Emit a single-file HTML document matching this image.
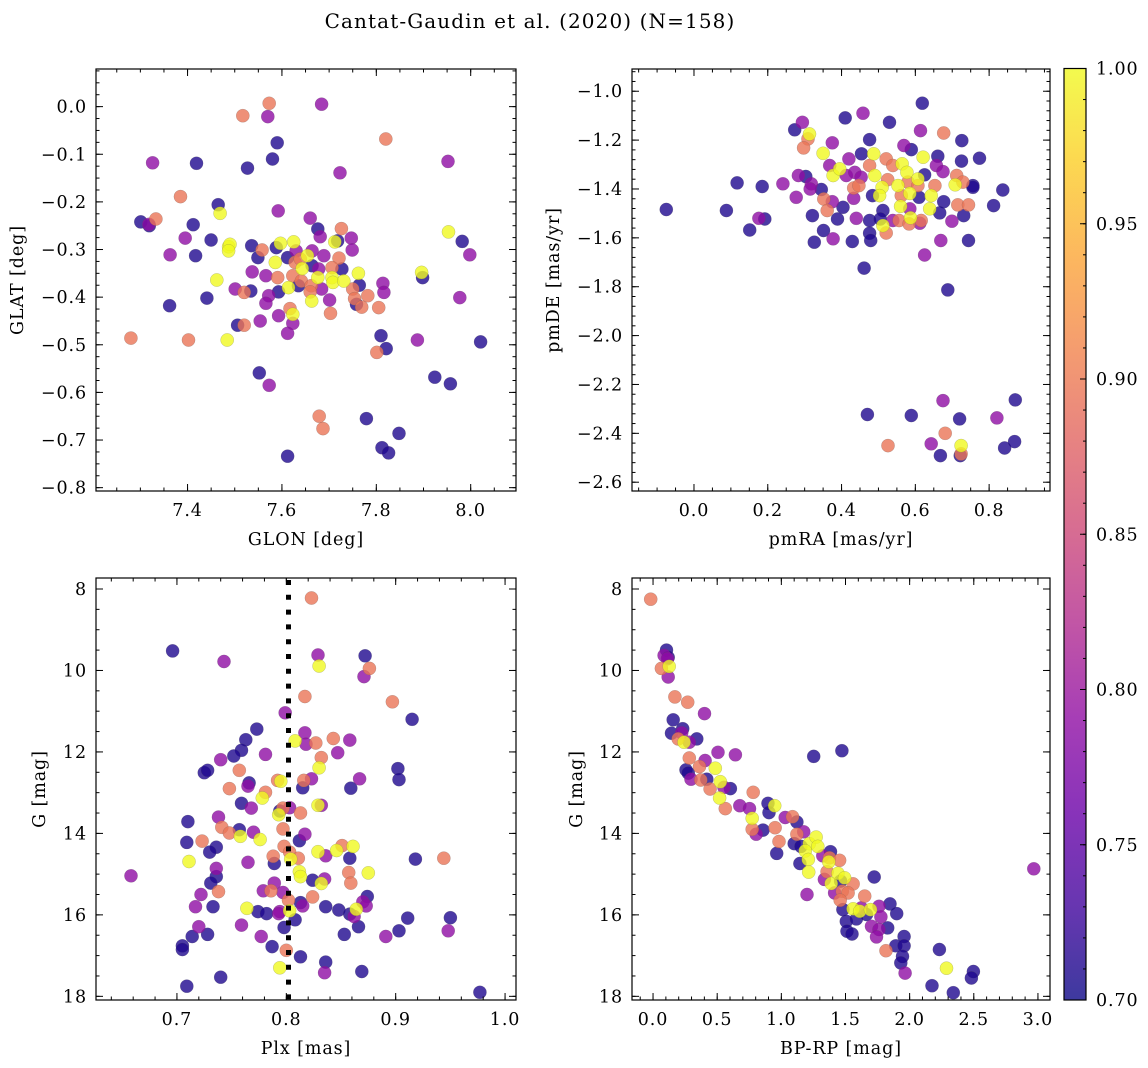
<!DOCTYPE html>
<html><head><meta charset="utf-8"><title>Cantat-Gaudin et al. (2020)</title>
<style>
html,body{margin:0;padding:0;background:#fff;}
svg{display:block;font-family:"DejaVu Serif","Liberation Serif",serif;}
</style></head>
<body>
<svg id="fig" width="1148" height="1068" viewBox="0 0 1148 1068" xmlns="http://www.w3.org/2000/svg">
<defs>
<linearGradient id="plasmaGrad" x1="0" y1="1" x2="0" y2="0">
<stop offset="0" stop-color="#0d0887"/><stop offset="0.1" stop-color="#41049d"/><stop offset="0.2" stop-color="#6a00a8"/><stop offset="0.3" stop-color="#8f0da4"/><stop offset="0.4" stop-color="#b12a90"/><stop offset="0.5" stop-color="#cc4778"/><stop offset="0.6" stop-color="#e16462"/><stop offset="0.7" stop-color="#f2844b"/><stop offset="0.8" stop-color="#fca636"/><stop offset="0.9" stop-color="#fcce25"/><stop offset="1" stop-color="#f0f921"/>
</linearGradient>
</defs>
<text x="530" y="28" text-anchor="middle" font-size="20" letter-spacing="1.1">Cantat-Gaudin et al. (2020) (N=158)</text>
</svg>
<script>
// ---- Panel 1: GLON / GLAT ----
const glon=[7.573,7.517,7.570,7.684,7.590,7.580,7.527,7.419,7.326,7.820,7.952,7.723,7.385,7.465,7.469,7.301,7.319,7.318,7.333,7.412,7.395,7.450,7.363,7.417,7.592,7.660,7.676,7.726,7.681,7.747,7.718,7.712,7.749,7.487,7.490,7.487,7.536,7.558,7.549,7.588,7.597,7.625,7.630,7.612,7.654,7.664,7.586,7.628,7.639,7.643,7.664,7.689,7.721,7.706,7.727,7.537,7.566,7.591,7.623,7.641,7.676,7.678,7.706,7.708,7.762,7.731,7.750,7.764,7.614,7.635,7.662,7.684,7.660,7.663,7.701,7.593,7.572,7.566,7.501,7.520,7.534,7.462,7.441,7.362,7.754,7.758,7.769,7.782,7.805,7.814,7.816,7.896,7.898,7.953,7.982,7.998,7.977,7.703,7.617,7.623,7.593,7.623,7.612,7.554,7.506,7.520,7.484,7.402,7.280,7.810,7.821,7.801,7.887,8.021,7.552,7.573,7.924,7.957,7.679,7.687,7.779,7.848,7.812,7.826,7.612];
const glat=[0.007,-0.019,-0.021,0.005,-0.076,-0.110,-0.129,-0.119,-0.118,-0.068,-0.115,-0.139,-0.189,-0.206,-0.224,-0.242,-0.250,-0.247,-0.236,-0.248,-0.276,-0.280,-0.311,-0.313,-0.219,-0.234,-0.257,-0.256,-0.273,-0.276,-0.282,-0.284,-0.301,-0.294,-0.289,-0.303,-0.292,-0.301,-0.317,-0.296,-0.287,-0.284,-0.303,-0.317,-0.313,-0.303,-0.327,-0.327,-0.320,-0.340,-0.334,-0.313,-0.318,-0.338,-0.341,-0.347,-0.355,-0.359,-0.355,-0.366,-0.359,-0.341,-0.359,-0.369,-0.350,-0.366,-0.383,-0.375,-0.380,-0.376,-0.376,-0.383,-0.389,-0.408,-0.406,-0.389,-0.397,-0.413,-0.383,-0.390,-0.387,-0.364,-0.402,-0.418,-0.403,-0.415,-0.421,-0.397,-0.422,-0.371,-0.390,-0.348,-0.359,-0.263,-0.283,-0.311,-0.401,-0.434,-0.424,-0.436,-0.439,-0.455,-0.476,-0.450,-0.459,-0.459,-0.490,-0.490,-0.486,-0.481,-0.508,-0.516,-0.490,-0.494,-0.559,-0.585,-0.568,-0.582,-0.650,-0.676,-0.655,-0.686,-0.716,-0.727,-0.734];
const prob1=[0.895,0.895,0.79,0.79,0.71,0.71,0.71,0.71,0.79,0.895,0.79,0.79,0.895,0.71,1.0,0.71,0.71,0.79,0.895,0.71,0.79,0.71,0.79,0.71,0.79,0.79,0.71,0.895,0.79,0.79,0.71,1.0,0.79,1.0,1.0,1.0,0.71,0.895,0.71,0.71,1.0,1.0,0.79,0.71,1.0,0.79,1.0,0.895,0.895,1.0,0.71,0.79,0.895,0.895,0.71,0.79,0.79,0.895,0.895,0.895,1.0,0.79,1.0,1.0,1.0,1.0,0.895,0.71,1.0,0.71,0.895,0.79,0.895,1.0,0.79,0.71,0.79,0.79,0.79,0.895,0.71,1.0,0.71,0.71,0.895,0.71,0.895,0.895,0.895,0.79,0.79,1.0,0.71,1.0,0.71,0.79,0.79,0.895,0.895,1.0,0.79,0.79,0.79,0.79,0.71,0.895,1.0,0.895,0.895,0.71,0.71,0.895,0.79,0.71,0.71,0.79,0.71,0.71,0.895,0.895,0.71,0.71,0.71,0.71,0.71];
const p1XTicks=[7.4,7.6,7.8,8.0];
const p1XLabels=["7.4","7.6","7.8","8.0"];
const p1YTicks=[0.0,-0.1,-0.2,-0.3,-0.4,-0.5,-0.6,-0.7,-0.8];
const p1YLabels=["0.0","\u22120.1","\u22120.2","\u22120.3","\u22120.4","\u22120.5","\u22120.6","\u22120.7","\u22120.8"];

// ---- Panel 2: pmRA / pmDE ----
const pmra=[-0.075,0.088,0.117,0.185,0.151,0.176,0.192,0.241,0.273,0.294,0.313,0.309,0.297,0.283,0.303,0.277,0.318,0.315,0.345,0.321,0.326,0.351,0.350,0.375,0.368,0.352,0.375,0.361,0.377,0.395,0.410,0.404,0.389,0.377,0.420,0.413,0.436,0.433,0.447,0.433,0.440,0.429,0.458,0.454,0.453,0.476,0.476,0.487,0.490,0.484,0.476,0.476,0.479,0.461,0.530,0.521,0.539,0.510,0.503,0.512,0.525,0.505,0.521,0.512,0.539,0.556,0.564,0.569,0.589,0.553,0.562,0.560,0.577,0.580,0.585,0.585,0.587,0.583,0.607,0.607,0.610,0.614,0.619,0.621,0.625,0.616,0.612,0.625,0.643,0.639,0.653,0.661,0.657,0.675,0.677,0.666,0.699,0.669,0.677,0.688,0.708,0.712,0.729,0.715,0.744,0.726,0.725,0.756,0.756,0.731,0.744,0.774,0.812,0.837,0.470,0.526,0.589,0.675,0.681,0.643,0.668,0.720,0.724,0.722,0.724,0.821,0.842,0.869,0.871];
const pmde=[-1.484,-1.488,-1.375,-1.390,-1.568,-1.520,-1.523,-1.379,-1.158,-1.127,-1.175,-1.195,-1.232,-1.345,-1.349,-1.434,-1.379,-1.400,-1.402,-1.509,-1.618,-1.570,-1.254,-1.211,-1.304,-1.441,-1.452,-1.488,-1.345,-1.318,-1.109,-1.475,-1.523,-1.604,-1.277,-1.345,-1.332,-1.396,-1.386,-1.438,-1.520,-1.615,-1.090,-1.256,-1.352,-1.198,-1.304,-1.256,-1.345,-1.427,-1.529,-1.581,-1.611,-1.724,-1.127,-1.277,-1.304,-1.393,-1.427,-1.488,-1.362,-1.523,-1.580,-1.550,-1.529,-1.529,-1.297,-1.222,-1.239,-1.386,-1.427,-1.471,-1.332,-1.372,-1.418,-1.481,-1.518,-1.543,-1.386,-1.359,-1.434,-1.161,-1.049,-1.270,-1.342,-1.529,-1.540,-1.670,-1.427,-1.481,-1.386,-1.266,-1.304,-1.329,-1.452,-1.498,-1.532,-1.611,-1.171,-1.813,-1.383,-1.345,-1.372,-1.465,-1.465,-1.202,-1.286,-1.386,-1.393,-1.509,-1.611,-1.274,-1.468,-1.404,-2.323,-2.450,-2.327,-2.266,-2.400,-2.443,-2.491,-2.341,-2.484,-2.491,-2.450,-2.337,-2.460,-2.434,-2.263];
const prob2=[0.71,0.71,0.71,0.71,0.71,0.79,0.71,0.79,0.71,0.79,1.0,0.895,0.895,0.79,0.71,0.79,0.79,0.79,0.71,0.71,0.71,0.71,1.0,0.79,0.79,0.895,0.79,0.895,1.0,1.0,0.71,0.71,0.71,0.79,0.79,0.79,0.79,0.895,0.895,0.79,0.79,0.71,0.79,0.71,0.79,0.71,0.895,1.0,1.0,0.71,0.71,0.71,0.71,0.71,0.71,0.895,0.895,1.0,1.0,0.71,0.895,0.71,0.895,1.0,0.79,0.895,1.0,0.79,0.71,1.0,0.895,1.0,1.0,0.895,1.0,0.79,1.0,0.895,0.895,1.0,0.71,0.79,0.71,1.0,0.71,0.895,0.79,0.79,1.0,1.0,0.895,0.71,0.79,0.79,0.71,0.71,0.79,0.79,0.895,0.71,1.0,0.895,0.895,0.895,0.895,0.71,0.71,0.71,0.71,0.71,0.71,0.71,0.71,0.71,0.71,0.895,0.71,0.79,0.895,0.79,0.71,0.71,0.895,0.71,1.0,0.79,0.71,0.71,0.71];
const p2XTicks=[0.0,0.2,0.4,0.6,0.8];
const p2XLabels=["0.0","0.2","0.4","0.6","0.8"];
const p2YTicks=[-1.0,-1.2,-1.4,-1.6,-1.8,-2.0,-2.2,-2.4,-2.6];
const p2YLabels=["\u22121.0","\u22121.2","\u22121.4","\u22121.6","\u22121.8","\u22122.0","\u22122.2","\u22122.4","\u22122.6"];

// ---- Panel 3: Plx / G ----
const plx=[0.823,0.696,0.743,0.829,0.830,0.872,0.876,0.871,0.817,0.897,0.799,0.915,0.773,0.763,0.759,0.752,0.740,0.781,0.817,0.808,0.818,0.827,0.843,0.858,0.847,0.832,0.830,0.725,0.728,0.757,0.902,0.903,0.792,0.795,0.816,0.823,0.815,0.766,0.765,0.748,0.781,0.778,0.859,0.867,0.759,0.768,0.829,0.832,0.794,0.797,0.803,0.793,0.813,0.797,0.710,0.738,0.741,0.748,0.757,0.770,0.758,0.776,0.817,0.812,0.709,0.723,0.736,0.730,0.798,0.803,0.788,0.789,0.765,0.804,0.811,0.851,0.861,0.846,0.829,0.836,0.858,0.918,0.944,0.711,0.658,0.736,0.736,0.731,0.812,0.813,0.824,0.835,0.832,0.857,0.859,0.875,0.789,0.786,0.779,0.797,0.738,0.722,0.824,0.874,0.870,0.873,0.802,0.717,0.733,0.764,0.774,0.782,0.794,0.793,0.803,0.813,0.815,0.836,0.848,0.858,0.862,0.864,0.808,0.798,0.759,0.720,0.714,0.728,0.777,0.866,0.853,0.891,0.903,0.911,0.950,0.948,0.705,0.705,0.787,0.800,0.813,0.836,0.835,0.794,0.869,0.740,0.709,0.977];
const gmag3=[8.22,9.52,9.78,9.62,9.89,9.64,9.95,10.15,10.64,10.77,11.04,11.20,11.44,11.70,11.96,12.10,12.19,12.06,11.53,11.73,11.81,11.78,11.67,11.71,12.02,12.14,12.39,12.51,12.45,12.45,12.41,12.68,12.70,12.72,12.70,12.66,12.88,12.76,12.84,12.90,12.99,13.13,12.89,12.66,13.26,13.38,13.31,13.31,13.45,13.38,13.37,13.54,13.50,13.89,13.71,13.60,13.85,13.99,13.91,13.97,14.07,14.15,14.02,14.18,14.22,14.19,14.34,14.46,14.32,14.46,14.56,14.74,14.71,14.63,14.61,14.30,14.32,14.42,14.45,14.55,14.61,14.63,14.61,14.69,15.04,14.86,15.06,15.22,14.94,15.06,15.15,15.12,15.23,14.96,15.22,14.97,15.22,15.41,15.41,15.45,15.43,15.50,15.56,15.55,15.68,15.78,15.64,15.80,15.80,15.84,15.92,15.97,15.92,15.97,15.90,15.70,15.78,15.80,15.88,15.98,16.04,15.86,16.12,16.31,16.25,16.29,16.53,16.48,16.53,16.29,16.48,16.53,16.39,16.08,16.07,16.39,16.76,16.85,16.78,16.87,17.03,17.16,17.42,17.30,17.39,17.53,17.75,17.90];
const prob3=[0.895,0.71,0.79,0.79,1.0,0.71,0.895,0.79,0.895,0.895,0.79,0.71,0.71,0.71,0.71,0.71,0.79,0.79,0.79,1.0,0.79,0.895,0.895,0.79,0.79,0.895,1.0,0.71,0.71,0.895,0.71,0.71,0.895,1.0,0.895,0.79,0.71,0.71,0.79,0.895,0.895,1.0,0.71,0.79,0.71,0.79,1.0,0.79,0.71,0.895,0.79,1.0,0.895,0.895,0.71,0.79,0.895,0.895,0.71,0.79,1.0,1.0,0.79,0.71,0.71,0.895,0.71,0.71,0.895,0.895,0.895,0.71,0.79,1.0,0.895,0.895,1.0,1.0,1.0,0.79,0.71,0.71,0.895,1.0,0.79,0.79,0.71,0.71,1.0,1.0,0.71,0.79,1.0,0.895,0.895,1.0,0.79,0.895,0.79,0.79,0.895,0.79,0.895,0.71,0.79,0.79,0.895,0.79,0.71,1.0,0.71,0.71,0.79,0.79,1.0,0.71,0.79,0.71,0.71,0.71,0.79,1.0,0.71,0.71,0.79,0.79,0.71,0.71,0.79,0.71,0.71,0.79,0.71,0.71,0.71,0.79,0.71,0.71,0.71,0.895,0.71,0.71,0.79,1.0,0.71,0.71,0.71,0.71];
const p3XTicks=[0.7,0.8,0.9,1.0];
const p3XLabels=["0.7","0.8","0.9","1.0"];
const gTicks=[8,10,12,14,16,18];
const gLabels=["8","10","12","14","16","18"];
const plxMean=[0.802];

// ---- Panel 4: BP-RP / G ----
const bprp=[-0.018,0.105,0.086,0.118,0.113,0.065,0.126,0.118,0.170,0.270,0.401,0.157,0.144,0.231,0.223,0.196,0.341,0.283,0.241,0.506,0.642,0.283,0.406,0.362,0.485,0.257,0.275,0.296,0.372,0.419,0.524,0.553,0.603,0.445,0.519,0.563,0.781,0.676,0.752,0.896,0.904,0.948,1.252,1.472,0.773,0.773,0.804,0.857,0.951,0.982,0.964,1.030,1.087,1.121,1.121,1.174,1.100,1.153,1.145,1.218,1.271,1.187,1.284,1.210,1.213,1.323,1.383,1.375,1.454,1.370,1.357,1.336,1.389,1.441,1.493,1.462,1.559,1.415,1.475,1.520,1.459,1.480,1.506,1.512,1.551,1.200,1.650,1.724,1.559,1.611,1.695,1.585,1.664,1.624,1.761,1.847,1.899,1.776,1.703,1.761,1.742,1.829,1.957,1.892,1.957,1.944,1.931,1.816,1.965,2.232,2.287,2.174,2.340,2.497,2.481,2.968];
const gmag4=[8.25,9.50,9.63,9.68,9.71,9.95,9.90,10.16,10.65,10.78,11.06,11.21,11.54,11.43,11.53,11.68,11.68,11.76,11.76,12.01,12.07,12.15,12.21,12.36,12.40,12.44,12.52,12.67,12.69,12.67,12.73,12.87,12.90,12.91,13.13,13.39,12.99,13.32,13.39,13.26,13.49,13.32,12.11,11.97,13.63,13.90,14.02,13.92,13.86,14.20,14.49,13.61,13.59,13.72,14.02,13.96,14.25,14.32,14.74,14.25,14.09,14.43,14.32,14.64,14.95,14.55,14.45,14.60,14.66,14.70,14.94,15.13,15.23,14.98,15.09,15.17,15.24,15.46,15.42,15.46,15.64,15.87,16.16,16.40,16.47,15.50,15.54,15.07,15.85,15.91,15.87,16.10,15.99,15.83,15.79,15.73,15.97,16.05,16.28,16.36,16.54,16.32,16.53,16.76,16.76,17.02,17.18,16.88,17.43,16.85,17.31,17.74,17.91,17.39,17.55,14.87];
const prob4=[0.895,0.71,0.79,0.71,0.79,0.895,1.0,0.79,0.895,0.895,0.79,0.71,0.71,0.71,0.79,0.895,0.71,0.79,1.0,0.79,0.79,0.895,0.79,0.895,1.0,0.71,0.71,0.79,0.895,0.71,1.0,0.79,0.71,0.895,1.0,0.895,0.895,0.79,0.79,0.71,0.71,1.0,0.71,0.71,1.0,0.895,0.79,0.71,0.895,0.895,0.71,0.79,0.895,0.71,0.895,0.79,0.71,0.71,0.71,1.0,1.0,1.0,1.0,1.0,1.0,0.79,0.71,0.895,0.895,1.0,0.895,0.79,1.0,1.0,1.0,0.71,0.895,0.79,0.895,0.895,0.895,0.71,0.71,0.71,0.71,0.79,0.895,0.71,1.0,1.0,1.0,0.71,0.71,0.79,0.79,0.71,0.71,0.79,0.79,0.79,0.79,0.71,0.71,0.71,0.71,0.71,0.71,0.895,0.79,0.71,1.0,0.71,0.71,0.71,0.71,0.79];
const p4XTicks=[0.0,0.5,1.0,1.5,2.0,2.5,3.0];
const p4XLabels=["0.0","0.5","1.0","1.5","2.0","2.5","3.0"];

// ---- Colorbar ----
const cbTicks=[0.70,0.75,0.80,0.85,0.90,0.95,1.00];
const cbLabels=["0.70","0.75","0.80","0.85","0.90","0.95","1.00"];
const cbRange=[0.70,1.00];

const NS="http://www.w3.org/2000/svg";
const fig=document.getElementById('fig');
const FS=17.5, LS=0.9;
function mk(tag,attrs,parent){const e=document.createElementNS(NS,tag);for(const k in attrs)e.setAttribute(k,attrs[k]);(parent||fig).appendChild(e);return e;}

const stops=[[0,[13,8,135]],[0.1,[65,4,157]],[0.2,[106,0,168]],[0.3,[143,13,164]],[0.4,[177,42,144]],[0.5,[204,71,120]],[0.6,[225,100,98]],[0.7,[242,132,75]],[0.8,[252,166,54]],[0.9,[252,206,37]],[1,[240,249,33]]];
function plasma(t){t=Math.max(0,Math.min(1,t));for(let i=1;i<stops.length;i++){if(t<=stops[i][0]){const a=stops[i-1],b=stops[i];const f=(t-a[0])/(b[0]-a[0]);const c=a[1].map((v,j)=>Math.round(v+(b[1][j]-v)*f));return 'rgb('+c.join(',')+')';}}return 'rgb(240,249,33)';}
function colorOf(p){return plasma((p-cbRange[0])/(cbRange[1]-cbRange[0]));}

function panel(cfg){
  const {name,x0,x1,y0,y1,xmin,xmax,ymin,ymax,invert}=cfg;
  const sx=v=>x0+(v-xmin)/(xmax-xmin)*(x1-x0);
  const sy=invert?(v=>y0+(v-ymin)/(ymax-ymin)*(y1-y0)):(v=>y1-(v-ymin)/(ymax-ymin)*(y1-y0));
  const g=mk('g',{});
  
  
  const idx=cfg.xs.map((_,i)=>i).sort((a,b)=>cfg.ps[a]-cfg.ps[b]);
  const pg=mk('g',{},g);
  
  
  idx.forEach(i=>{
    const c=mk('circle',{cx:sx(cfg.xs[i]).toFixed(1),cy:sy(cfg.ys[i]).toFixed(1),r:6.6,fill:colorOf(cfg.ps[i]),'fill-opacity':0.8,stroke:'#555','stroke-opacity':0.35,'stroke-width':0.5},pg);
    
    
  });
  if(cfg.vline){cfg.vline.forEach(v=>{
    const l=mk('line',{x1:sx(v),x2:sx(v),y1:y0+2,y2:y1,stroke:'#000','stroke-width':5,'stroke-dasharray':'5 9.8'},g);
    
    
  });}
  const tg=mk('g',{stroke:'#000','stroke-width':1},g);
  
  
  const lo=Math.min(xmin,xmax),hi=Math.max(xmin,xmax);
  for(let v=Math.ceil(lo/cfg.xminor-1e-6)*cfg.xminor;v<=hi+1e-9;v+=cfg.xminor){const X=sx(v);mk('line',{x1:X,x2:X,y1:y1,y2:y1-3.5},tg);mk('line',{x1:X,x2:X,y1:y0,y2:y0+3.5},tg);}
  const ylo=Math.min(ymin,ymax),yhi=Math.max(ymin,ymax);
  for(let v=Math.ceil(ylo/cfg.yminor-1e-6)*cfg.yminor;v<=yhi+1e-9;v+=cfg.yminor){const Y=sy(v);mk('line',{x1:x0,x2:x0+3.5,y1:Y,y2:Y},tg);mk('line',{x1:x1,x2:x1-3.5,y1:Y,y2:Y},tg);}
  cfg.xt.forEach((v,i)=>{const X=sx(v);mk('line',{x1:X,x2:X,y1:y1,y2:y1-7},tg);mk('line',{x1:X,x2:X,y1:y0,y2:y0+7},tg);
    const t=mk('text',{x:X,y:y1+25,'text-anchor':'middle','font-size':FS,'letter-spacing':LS});t.textContent=cfg.xl[i];
    
    });
  cfg.yt.forEach((v,i)=>{const Y=sy(v);mk('line',{x1:x0,x2:x0+7,y1:Y,y2:Y},tg);mk('line',{x1:x1,x2:x1-7,y1:Y,y2:Y},tg);
    const t=mk('text',{x:x0-9,y:Y+6,'text-anchor':'end','font-size':FS,'letter-spacing':LS});t.textContent=cfg.yl[i];
    
    });
  const fr=mk('rect',{x:x0,y:y0,width:x1-x0,height:y1-y0,fill:'none',stroke:'#000','stroke-width':1.2},g);
  
  
  const xl=mk('text',{x:(x0+x1)/2,y:y1+54,'text-anchor':'middle','font-size':FS,'letter-spacing':LS});xl.textContent=cfg.xlabel;
  
  
  const yx=cfg.ylx, yc=(y0+y1)/2;
  const yl=mk('text',{x:yx,y:yc,'text-anchor':'middle','font-size':FS,'letter-spacing':LS,transform:'rotate(-90 '+yx+' '+yc+')'});yl.textContent=cfg.ylabel;
  
  
}

panel({name:'glon-glat-panel',x0:96,x1:516,y0:69,y1:491,xmin:7.206,xmax:8.096,ymin:-0.807,ymax:0.079,invert:false,xs:glon,ys:glat,ps:prob1,xt:p1XTicks,xl:p1XLabels,yt:p1YTicks,yl:p1YLabels,xminor:0.05,yminor:0.025,xlabel:'GLON [deg]',ylabel:'GLAT [deg]',ylx:23});
panel({name:'pm-panel',x0:632,x1:1050,y0:69,y1:491,xmin:-0.168,xmax:0.965,ymin:-2.636,ymax:-0.909,invert:false,xs:pmra,ys:pmde,ps:prob2,xt:p2XTicks,xl:p2XLabels,yt:p2YTicks,yl:p2YLabels,xminor:0.05,yminor:0.04,xlabel:'pmRA [mas/yr]',ylabel:'pmDE [mas/yr]',ylx:559});
panel({name:'plx-g-panel',x0:96,x1:516,y0:578,y1:1000,xmin:0.626,xmax:1.010,ymin:7.73,ymax:18.09,invert:true,xs:plx,ys:gmag3,ps:prob3,xt:p3XTicks,xl:p3XLabels,yt:gTicks,yl:gLabels,xminor:0.02,yminor:0.5,xlabel:'Plx [mas]',ylabel:'G [mag]',ylx:45,vline:plxMean});
panel({name:'cmd-panel',x0:632,x1:1050,y0:578,y1:1000,xmin:-0.164,xmax:3.094,ymin:7.73,ymax:18.09,invert:true,xs:bprp,ys:gmag4,ps:prob4,xt:p4XTicks,xl:p4XLabels,yt:gTicks,yl:gLabels,xminor:0.1,yminor:0.5,xlabel:'BP-RP [mag]',ylabel:'G [mag]',ylx:582});

(function(){
  const cx0=1064,cx1=1086,cy0=68.5,cy1=1000;
  const sy=v=>cy1-(v-cbRange[0])/(cbRange[1]-cbRange[0])*(cy1-cy0);
  const g=mk('g',{});
  
  
  mk('rect',{x:cx0,y:cy0,width:cx1-cx0,height:cy1-cy0,fill:'url(#plasmaGrad)','fill-opacity':0.8},g);
  for(let k=0;k<=30;k++){const v=cbRange[0]+k*0.01;const Y=sy(v);mk('line',{x1:cx1,x2:cx1-3,y1:Y,y2:Y,stroke:'#000','stroke-width':1},g);}
  cbTicks.forEach((v,i)=>{const Y=sy(v);mk('line',{x1:cx1,x2:cx1-6,y1:Y,y2:Y,stroke:'#000','stroke-width':1},g);
    const t=mk('text',{x:cx1+10,y:Y+6,'font-size':FS,'letter-spacing':LS},g);t.textContent=cbLabels[i];
    
    });
  mk('rect',{x:cx0,y:cy0,width:cx1-cx0,height:cy1-cy0,fill:'none',stroke:'#000','stroke-width':1.2},g);
})();
</script>
</body></html>
